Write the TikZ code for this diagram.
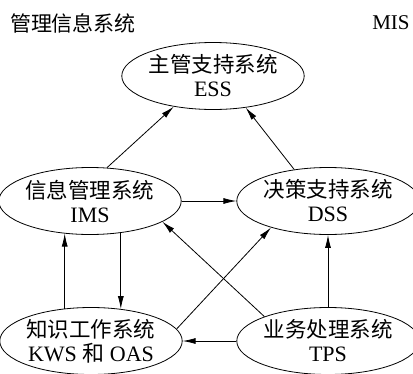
\documentclass[tikz,border=0pt]{standalone}
\usepackage{fontspec}
\setmainfont{Liberation Serif}
\newfontfamily\cjk{Noto Sans CJK SC}
\usetikzlibrary{arrows.meta,shapes.geometric}

\begin{document}
\begin{tikzpicture}[x=1pt,y=-1pt,
    sys/.style={draw,ellipse,line width=0.8pt,minimum width=168pt,minimum height=67pt,
      inner sep=0pt,align=center,font=\fontsize{22}{24}\selectfont,
      execute at begin node=\rule{0pt}{26pt}},
    arr/.style={-{Latex[length=13pt,width=6pt]},line width=0.8pt}]
	  \useasboundingbox (0,0) rectangle (413,373);
	  % Title
	  \node (title) at (73,23) {\fontsize{21}{25}\selectfont\cjk 管理信息系统};
	  \node (mis) at (391,23) {\fontsize{21}{25}\selectfont MIS};
	  % Systems
	  \node[sys] (ess) at (213,76) {{\cjk\fontsize{21.5}{24}\selectfont 主管支持系统}\\ESS};
	  \node[sys] (ims) at (90,201) {{\cjk\fontsize{21.5}{24}\selectfont 信息管理系统}\\IMS};
	  \node[sys] (dss) at (328,201) {{\cjk\fontsize{21.5}{24}\selectfont 决策支持系统}\\DSS};
	  \node[sys] (kws) at (91,341) {{\cjk\fontsize{21.5}{24}\selectfont 知识工作系统}\\KWS {\cjk 和} OAS};
	  \node[sys] (tps) at (328,341) {{\cjk\fontsize{21.5}{24}\selectfont 业务处理系统}\\TPS};
	  % Flows
	  \draw[arr] (ims.63) -- (ess.218);
	  \draw[arr] (dss.137) -- (ess.316);
	  \draw[arr] (ims.east) -- (dss.west);
	  \draw[arr] (kws.129) -- (kws.129 |- ims.232);
	  \draw[arr] (ims.314) -- (ims.314 |- kws.46);
	  \draw[arr] (tps.159) -- (ims.344);
	  \draw[arr] (kws.8) -- (dss.205);
	  \draw[arr] (tps.north) -- (dss.south);
	  \draw[arr] (tps.west) -- (kws.east);
\end{tikzpicture}
\end{document}
